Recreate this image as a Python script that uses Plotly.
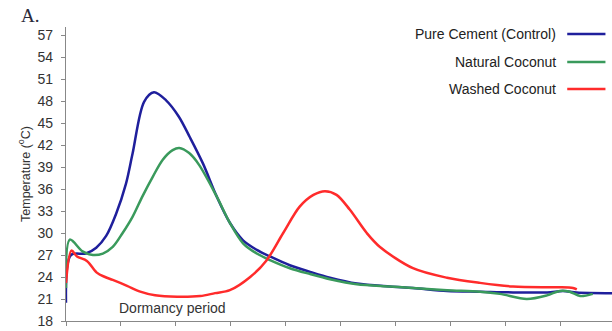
import plotly.graph_objects as go

# Time axis (arbitrary units, one tick per unit) and temperatures in °C
pure_x = [0.00, 0.09, 0.36, 0.55, 0.73, 0.91, 1.09, 1.21, 1.42, 1.60, 1.82, 2.05, 2.25,
          2.49, 2.74, 2.98, 3.22, 3.47, 3.71, 4.07, 4.44, 4.80, 5.29, 5.89, 6.31, 6.93, 7.53,
          8.13, 8.75, 9.04, 9.29, 9.93]
pure_y = [20.5, 27.0, 27.2, 28.0, 29.6, 32.6, 36.7, 40.8, 47.9, 49.2, 48.1, 45.9, 43.1,
          39.5, 35.0, 31.4, 29.0, 27.7, 26.8, 25.6, 24.7, 23.9, 23.1, 22.7, 22.5, 22.1, 22.0,
          21.9, 21.9, 22.1, 21.9, 21.8]

natural_x = [0.00, 0.07, 0.30, 0.49, 0.67, 0.85, 1.03, 1.21, 1.39, 1.58, 1.76, 1.94, 2.06, 2.24,
             2.42, 2.74, 2.98, 3.22, 3.47, 3.71, 4.07, 4.44, 4.80, 5.29, 5.89, 6.31, 6.93, 7.53,
             7.89, 8.38, 8.75, 8.98, 9.16, 9.35, 9.58]
natural_y = [22.5, 29.1, 27.5, 27.0, 27.2, 28.1, 30.0, 32.2, 35.0, 37.7, 40.0, 41.3, 41.6, 40.9,
             39.3, 35.0, 31.4, 28.6, 27.2, 26.3, 25.2, 24.4, 23.7, 23.0, 22.7, 22.5, 22.2, 22.0,
             21.7, 21.0, 21.5, 22.1, 22.0, 21.4, 21.7]

washed_x = [0.00, 0.10, 0.20, 0.38, 0.56, 0.71, 0.85, 1.11, 1.35, 1.62, 2.02, 2.44, 2.71, 2.98,
            3.35, 3.65, 3.95, 4.25, 4.50, 4.71, 4.92, 5.16, 5.47, 5.71, 6.31, 6.93, 7.53,
            8.13, 8.75, 8.98, 9.22, 9.29]
washed_y = [23.2, 27.6, 26.8, 26.2, 24.6, 24.0, 23.6, 22.8, 22.0, 21.5, 21.3, 21.4, 21.8, 22.2,
            24.0, 26.3, 30.0, 33.6, 35.2, 35.7, 35.2, 33.2, 30.0, 28.1, 25.2, 23.9, 23.2,
            22.7, 22.6, 22.6, 22.5, 22.3]

series_names = ["Pure Cement (Control)", "Natural Coconut", "Washed Coconut"]
series_colors = ["#1f1f9c", "#3a9a5c", "#ff2b2b"]
y_ticks = list(range(18, 58, 3))
x_ticks = list(range(0, 10))

FONT = "Liberation Sans, Arial, sans-serif"

fig = go.Figure()
for name, xs, ys, color in zip(series_names,
                               [pure_x, natural_x, washed_x],
                               [pure_y, natural_y, washed_y],
                               series_colors):
    fig.add_trace(go.Scatter(x=xs, y=ys, mode="lines", name=name,
                             line=dict(color=color, width=2.5, shape="spline", smoothing=0.9),
                             showlegend=False))

# Legend drawn at the top right with the line sample after the label
legend_y = [0.976, 0.881, 0.789]
for name, color, ly in zip(series_names, series_colors, legend_y):
    fig.add_annotation(xref="paper", yref="paper", x=0.901, y=ly, text=name,
                       showarrow=False, xanchor="right", yanchor="middle",
                       font=dict(family=FONT, size=14, color="#222222"))
    fig.add_shape(type="line", xref="paper", yref="paper", x0=0.918, x1=0.988, y0=ly, y1=ly,
                  line=dict(color=color, width=2.6))

fig.add_annotation(x=1.93, y=19.8, xref="x", yref="y", text="Dormancy period",
                   showarrow=False, xanchor="center", yanchor="middle",
                   font=dict(family=FONT, size=14, color="#333333"))

fig.add_annotation(xref="paper", yref="paper", x=-0.086, y=1.04, text="A.",
                   showarrow=False, xanchor="left", yanchor="middle",
                   font=dict(family="Liberation Serif, Times New Roman, serif", size=19,
                             color="#2a2a3a"))

fig.update_layout(
    width=612, height=331,
    margin=dict(l=66, r=0, t=27, b=10),
    plot_bgcolor="white", paper_bgcolor="white",
    font=dict(family=FONT, size=13, color="#333333"),
    xaxis=dict(range=[0, 9.93], tickvals=x_ticks, showticklabels=False,
               ticks="outside", ticklen=4, tickcolor="#888888",
               showline=True, linecolor="#888888", linewidth=1.2,
               showgrid=False, zeroline=False),
    yaxis=dict(range=[18, 58.1], tickvals=y_ticks, ticks="outside", ticklen=4,
               tickcolor="#888888", showline=True, linecolor="#888888", linewidth=1.2,
               showgrid=False, zeroline=False, ticklabelstandoff=5,
               tickfont=dict(family=FONT, size=14, color="#333333"),
               title=dict(text="Temperature (<sup>o</sup>C)", standoff=4,
                          font=dict(family=FONT, size=12.5, color="#333333"))),
)

fig.write_html("out.html")
